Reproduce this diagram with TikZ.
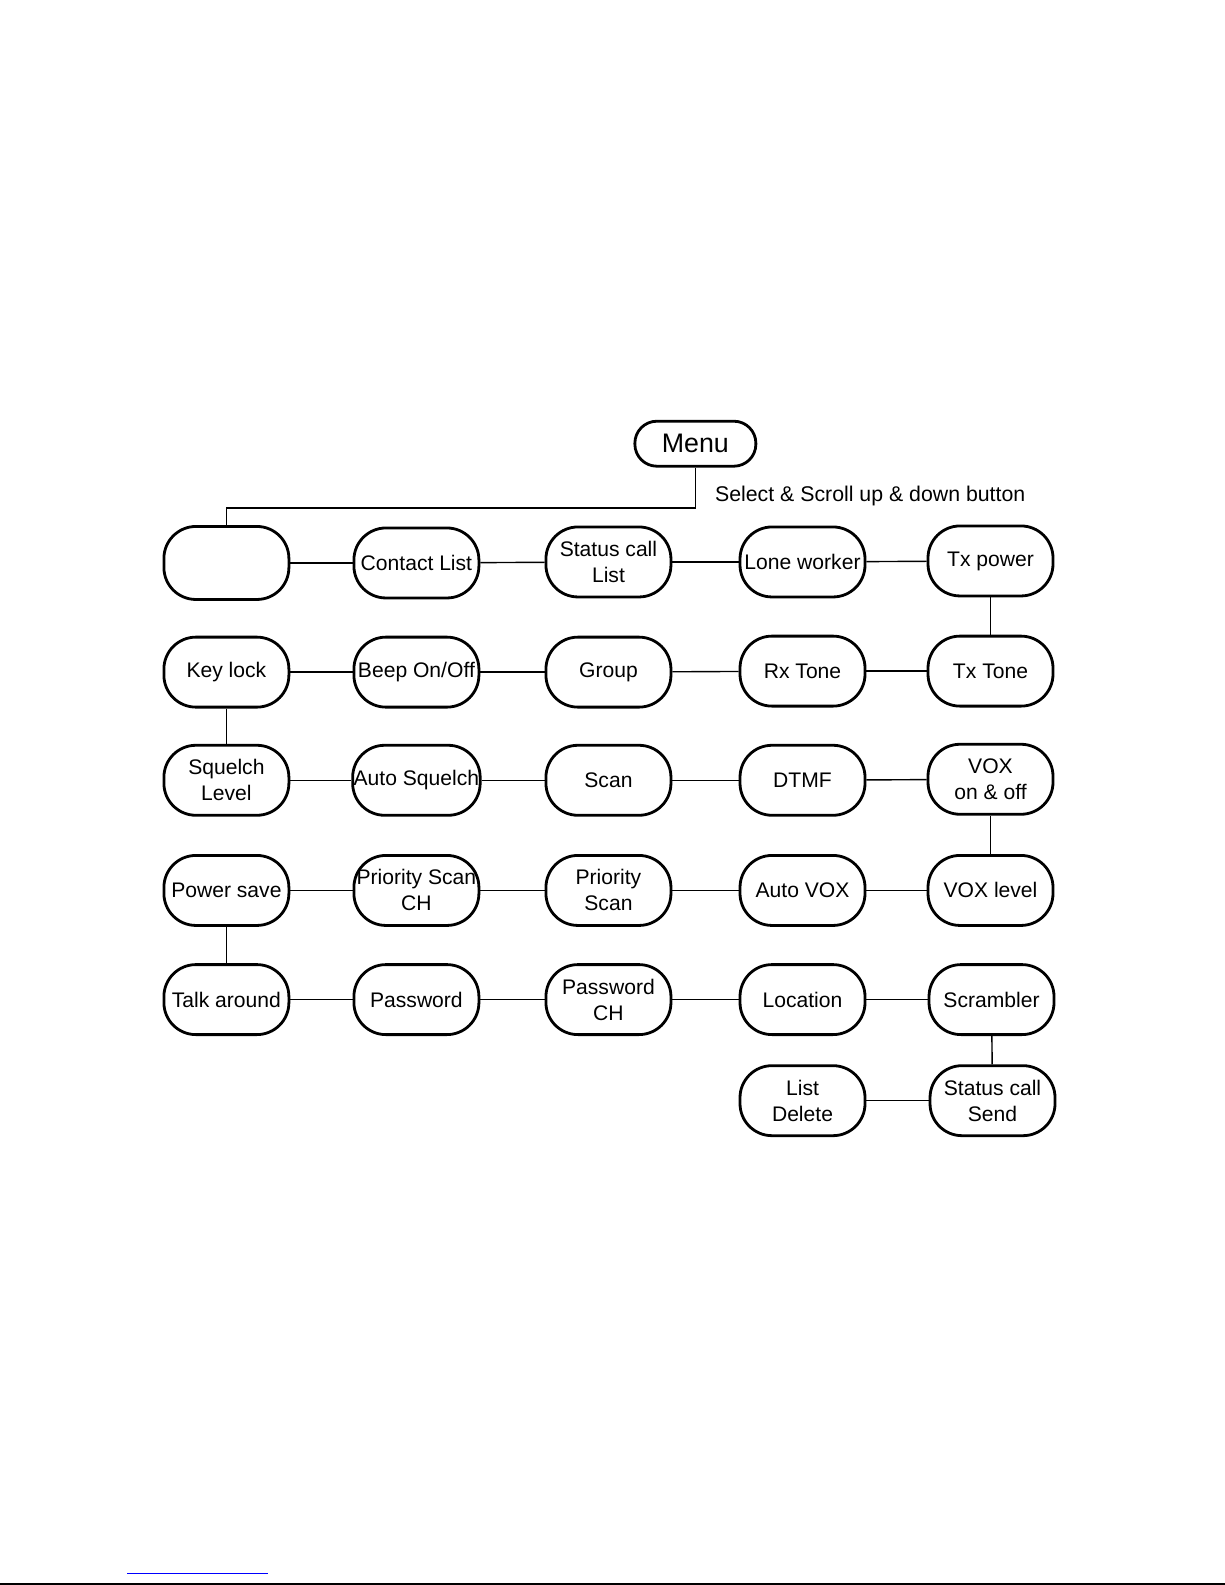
\documentclass[tikz,border=0pt]{standalone}
\usepackage{fontspec}
\setmainfont{Liberation Sans}
\tikzset{
  menubox/.style={draw, line width=2.8pt, rounded corners=32pt, minimum width=125pt, minimum height=70pt, align=center, inner sep=1pt, font=\fontsize{21.1}{26}\selectfont},
  link/.style={line width=1.4pt}
}
\begin{document}
\begin{tikzpicture}[x=1.0107pt, y=-1.0107pt]
\useasboundingbox (0,0) rectangle (1212,1568.2);
\node[draw, line width=2.8pt, rounded corners=22pt, minimum width=121pt, minimum height=45pt, font=\fontsize{26.8}{31}\selectfont] (menu) at (688,439){Menu};
\node[anchor=west, font=\fontsize{21.3}{26}\selectfont] (hint) at (704,491){Select \& Scroll up \& down button};
% row 1
\node[menubox, minimum height=73pt] (blank) at (224,557){};
\node[menubox] (contact) at (412,557){Contact List};
\node[menubox] (statuslist) at (602,556){Status call\\List};
\node[menubox] (lone) at (794,556){Lone worker};
\node[menubox] (txpower) at (980,555){Tx power};
\draw[link](menu.south) -- ++(0,40) -| (blank.north);
\draw[link](blank) -- (contact);
\draw[link](contact) -- (statuslist);
\draw[link](statuslist) -- (lone);
\draw[link](lone) -- (txpower);
% row 2
\node[menubox] (keylock) at (224,665){Key lock};
\node[menubox] (beep) at (412,665){Beep On/Off};
\node[menubox] (group) at (602,665){Group};
\node[menubox] (rxtone) at (794,664){Rx Tone};
\node[menubox] (txtone) at (980,664){Tx Tone};
\draw[link](txpower) -- (txtone);
\draw[link](txtone) -- (rxtone);
\draw[link](rxtone) -- (group);
\draw[link](group) -- (beep);
\draw[link](beep) -- (keylock);
% row 3
\node[menubox] (squelch) at (224,772){Squelch\\Level};
\node[menubox] (autosquelch) at (412,772){Auto Squelch};
\node[menubox] (scan) at (602,772){Scan};
\node[menubox] (dtmf) at (794,772){DTMF};
\node[menubox] (vox) at (980,771){VOX\\on \& off};
\draw[link](keylock) -- (squelch);
\draw[link](squelch) -- (autosquelch);
\draw[link](autosquelch) -- (scan);
\draw[link](scan) -- (dtmf);
\draw[link](dtmf) -- (vox);
% row 4
\node[menubox] (powersave) at (224,881){Power save};
\node[menubox] (priorch) at (412,881){Priority Scan\\CH};
\node[menubox] (priorscan) at (602,881){Priority\\Scan};
\node[menubox] (autovox) at (794,881){Auto VOX};
\node[menubox] (voxlevel) at (980,881){VOX level};
\draw[link](vox) -- (voxlevel);
\draw[link](voxlevel) -- (autovox);
\draw[link](autovox) -- (priorscan);
\draw[link](priorscan) -- (priorch);
\draw[link](priorch) -- (powersave);
% row 5
\node[menubox] (talk) at (224,989){Talk around};
\node[menubox] (password) at (412,989){Password};
\node[menubox] (passwordch) at (602,989){Password\\CH};
\node[menubox] (location) at (794,989){Location};
\node[menubox] (scrambler) at (981,989){Scrambler};
\draw[link](powersave) -- (talk);
\draw[link](talk) -- (password);
\draw[link](password) -- (passwordch);
\draw[link](passwordch) -- (location);
\draw[link](location) -- (scrambler);
% row 6
\node[menubox] (listdelete) at (794,1089){List\\Delete};
\node[menubox] (statussend) at (982,1089){Status call\\Send};
\draw[link](scrambler) -- (statussend);
\draw[link](statussend) -- (listdelete);
% page marks
\draw[blue, line width=1.6pt] (126,1557) -- (265,1557);
\draw[line width=2pt] (0,1567.3) -- (1212,1567.3);
\end{tikzpicture}
\end{document}
